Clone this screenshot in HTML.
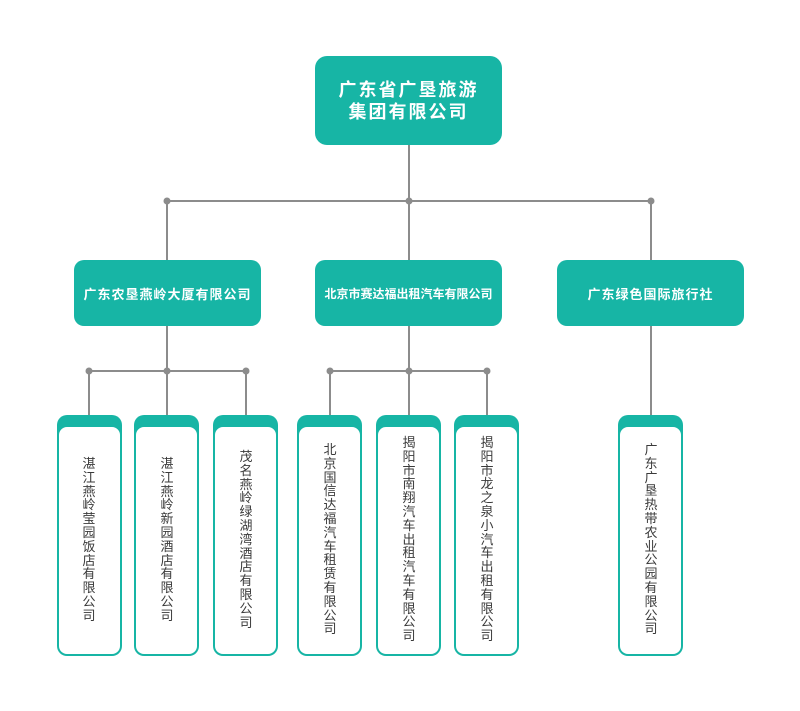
<!DOCTYPE html>
<html><head><meta charset="utf-8">
<style>
html,body{margin:0;padding:0;background:#fff;}
body{width:800px;height:711px;position:relative;overflow:hidden;font-family:"Liberation Sans","Noto Sans CJK SC",sans-serif;}
.top{position:absolute;left:315px;top:56px;width:187px;height:89px;background:#17b5a5;border-radius:12px;color:#fff;font-weight:bold;font-size:18px;letter-spacing:2px;line-height:22px;text-align:center;display:flex;align-items:center;justify-content:center;}
.mid{position:absolute;top:260px;height:66px;width:187px;background:#17b5a5;border-radius:10px;color:#fff;font-weight:bold;display:flex;align-items:center;justify-content:center;white-space:nowrap;}
.bot{position:absolute;top:415px;height:241px;width:65px;background:#17b5a5;border-radius:10px;}
.bot .in{position:absolute;left:2px;right:2px;top:12px;bottom:2px;background:#fff;border-radius:8px;}
.vt{position:absolute;width:16px;font-size:13px;line-height:13.8px;color:#3a3a3a;text-align:center;word-break:break-all;}
</style></head><body>
<svg width="800" height="711" style="position:absolute;left:0;top:0" xmlns="http://www.w3.org/2000/svg">
<g stroke="#8c8c8c" stroke-width="2" fill="none">
<line x1="409" y1="145" x2="409" y2="201"/>
<line x1="167" y1="201" x2="651" y2="201"/>
<line x1="167" y1="201" x2="167" y2="260"/>
<line x1="409" y1="201" x2="409" y2="260"/>
<line x1="651" y1="201" x2="651" y2="260"/>
<line x1="167" y1="326" x2="167" y2="371"/>
<line x1="89" y1="371" x2="246" y2="371"/>
<line x1="89" y1="371" x2="89" y2="415"/>
<line x1="167" y1="371" x2="167" y2="415"/>
<line x1="246" y1="371" x2="246" y2="415"/>
<line x1="409" y1="326" x2="409" y2="371"/>
<line x1="330" y1="371" x2="487" y2="371"/>
<line x1="330" y1="371" x2="330" y2="415"/>
<line x1="409" y1="371" x2="409" y2="415"/>
<line x1="487" y1="371" x2="487" y2="415"/>
<line x1="651" y1="326" x2="651" y2="415"/>
</g>
<g fill="#8c8c8c">
<circle cx="167" cy="201" r="3.5"/><circle cx="409" cy="201" r="3.5"/><circle cx="651" cy="201" r="3.5"/>
<circle cx="89" cy="371" r="3.5"/><circle cx="167" cy="371" r="3.5"/><circle cx="246" cy="371" r="3.5"/>
<circle cx="330" cy="371" r="3.5"/><circle cx="409" cy="371" r="3.5"/><circle cx="487" cy="371" r="3.5"/>
</g>
</svg>

<div class="top"><div>广东省广垦旅游<br>集团有限公司</div></div>

<div class="mid" style="left:74px;font-size:13px;letter-spacing:1px;">广东农垦燕岭大厦有限公司</div>
<div class="mid" style="left:315px;font-size:12px;letter-spacing:0;">北京市赛达福出租汽车有限公司</div>
<div class="mid" style="left:557px;font-size:13px;letter-spacing:1px;">广东绿色国际旅行社</div>

<div class="bot" style="left:57px"><div class="in"></div></div>
<div class="bot" style="left:134px"><div class="in"></div></div>
<div class="bot" style="left:213px"><div class="in"></div></div>
<div class="bot" style="left:297px"><div class="in"></div></div>
<div class="bot" style="left:376px"><div class="in"></div></div>
<div class="bot" style="left:454px"><div class="in"></div></div>
<div class="bot" style="left:618px"><div class="in"></div></div>

<div class="vt" style="left:81px;top:457px">湛江燕岭莹园饭店有限公司</div>
<div class="vt" style="left:159px;top:457px">湛江燕岭新园酒店有限公司</div>
<div class="vt" style="left:238px;top:450px">茂名燕岭绿湖湾酒店有限公司</div>
<div class="vt" style="left:322px;top:443px">北京国信达福汽车租赁有限公司</div>
<div class="vt" style="left:401px;top:436px">揭阳市南翔汽车出租汽车有限公司</div>
<div class="vt" style="left:479px;top:436px">揭阳市龙之泉小汽车出租有限公司</div>
<div class="vt" style="left:643px;top:443px">广东广垦热带农业公园有限公司</div>
</body></html>
